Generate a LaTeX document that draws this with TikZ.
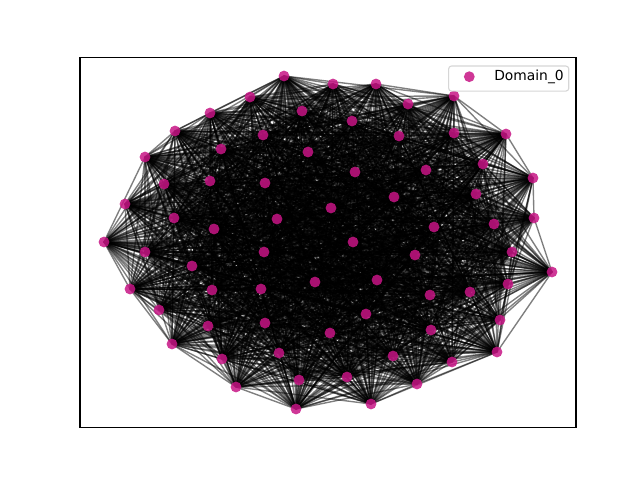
\documentclass[tikz,border=0pt]{standalone}
\usepackage{fontspec}
\setmainfont{DejaVu Sans}
\definecolor{mvr}{RGB}{199,21,133}
\pgfdeclarelayer{edges}
\pgfsetlayers{edges,main}
\tikzset{
  dot/.style={circle,inner sep=0pt,minimum size=0.108in,fill=mvr,fill opacity=0.85,draw=none},
  edge/.style={draw=black,line width=1pt,opacity=0.5},
  frame/.style={draw=black,line width=0.8pt},
  legendbox/.style={draw=black!20,fill=white,fill opacity=0.8,draw opacity=0.8,rounded corners=2pt,line width=0.8pt}
}
\begin{document}
\begin{tikzpicture}[x=0.01in,y=-0.01in]
\useasboundingbox (0,0) rectangle (640,480);
\foreach \k/\x/\y in {1/284/76,2/333/84,3/376/84,4/408/104,5/454/96,6/302/111,7/352/121,8/399/136,9/454/133,10/506/134,
11/250/97,12/210/113,13/175/131,14/145/157,15/125/204,16/104/242,17/263/135,18/221/149,19/308/152,20/355/172,
21/426/170,22/483/164,23/533/178,24/210/181,25/164/184,26/265/183,27/394/197,28/476/194,29/331/208,30/174/218,
31/214/229,32/277/219,33/434/227,34/494/224,35/534/218,36/353/242,37/145/252,38/264/252,39/415/255,40/512/252,
41/192/266,42/552/272,43/315/282,44/377/280,45/130/289,46/212/290,47/261/289,48/470/292,49/430/295,50/508/284,
51/159/310,52/366/314,53/265/323,54/208/326,55/330/333,56/431/330,57/500/320,58/172/344,59/279/353,60/497/352,
61/393/356,62/222/359,63/452/362,64/299/380,65/347/377,66/236/387,67/417/384,68/296/409,69/371/404}
  \node[dot] (n\k) at (\x,\y) {};
\pgfmathsetseed{7}
\begin{pgfonlayer}{edges}
\foreach \i in {1,...,68}{
  \pgfmathtruncatemacro\js{\i+1}
  \foreach \j in {\js,...,69}{
    \pgfmathrandominteger{\r}{1}{100}
    \ifnum\r<81 \draw[edge] (n\i.center) -- (n\j.center); \fi
  }
}
\end{pgfonlayer}
\draw[frame] (80,57.6) rectangle (576,427.2);
\node[legendbox,minimum width=1.2in,minimum height=0.25in,anchor=north east] (leg) at (569.3,65.5) {};
\node[dot] (legdot) at (469.3,76.7) {};
\node[anchor=west,font=\fontsize{10}{12}\selectfont,inner sep=0pt] (legtxt) at (494,77) {Domain\_0};
\end{tikzpicture}
\end{document}
